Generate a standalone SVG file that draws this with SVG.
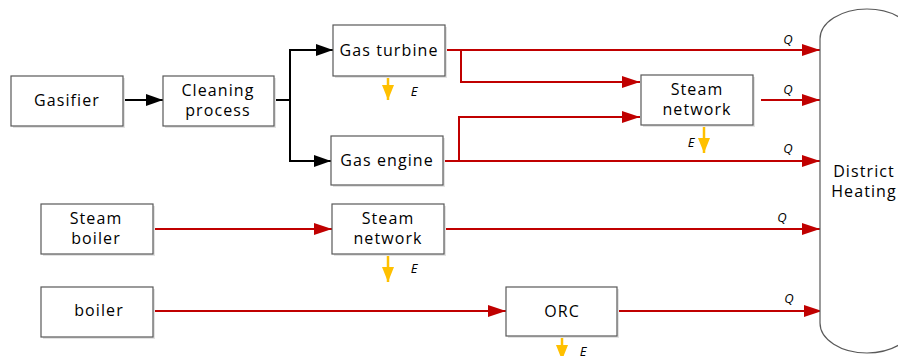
<svg xmlns="http://www.w3.org/2000/svg" width="898" height="356" viewBox="0 0 898 356">
<style>
.box{fill:#fff;stroke:#595959;stroke-width:1.2}
.sh{fill:#e3e3e3}
.t{font-family:"Open Sans","DejaVu Sans",sans-serif;font-size:16px;letter-spacing:1.1px;fill:#000;text-anchor:middle}
.l{font-family:"Open Sans","DejaVu Sans",sans-serif;font-size:13px;font-style:italic;fill:#000;text-anchor:middle}
.k{fill:none;stroke:#000;stroke-width:2}
.r{fill:none;stroke:#C00000;stroke-width:2}
.y{fill:none;stroke:#FFC000;stroke-width:2.5}
</style>
<defs>
<marker id="ak" markerUnits="userSpaceOnUse" markerWidth="18" markerHeight="14" refX="17" refY="7" orient="auto"><path d="M0,1 L17,7 L0,13 Z" fill="#000"/></marker>
<marker id="ar" markerUnits="userSpaceOnUse" markerWidth="19" markerHeight="14" refX="18" refY="7" orient="auto"><path d="M0,1 L18,7 L0,13 Z" fill="#C00000"/></marker>
<marker id="ay" markerUnits="userSpaceOnUse" markerWidth="16" markerHeight="14" refX="15" refY="7" orient="auto"><path d="M0,1 L15,7 L0,13 Z" fill="#FFC000"/></marker>
</defs>

<g id="connectors">
<path class="k" d="M123,100 H163" marker-end="url(#ak)"/>
<path class="k" d="M274,100 H290"/>
<path class="k" d="M290,100 V50 H333" marker-end="url(#ak)"/>
<path class="k" d="M290,100 V161 H331" marker-end="url(#ak)"/>
<path class="r" d="M445,50 H820" marker-end="url(#ar)"/>
<path class="r" d="M461,50 V82 H640" marker-end="url(#ar)"/>
<path class="r" d="M761,100 H820" marker-end="url(#ar)"/>
<path class="r" d="M443,161 H820" marker-end="url(#ar)"/>
<path class="r" d="M459,161 V117 H640" marker-end="url(#ar)"/>
<path class="r" d="M153,229 H332" marker-end="url(#ar)"/>
<path class="r" d="M444,229 H820" marker-end="url(#ar)"/>
<path class="r" d="M153,311 H506" marker-end="url(#ar)"/>
<path class="r" d="M617,311 H822" marker-end="url(#ar)"/>
<path class="y" d="M388,76 V100" marker-end="url(#ay)"/>
<path class="y" d="M704,125 V153" marker-end="url(#ay)"/>
<path class="y" d="M388,254 V282" marker-end="url(#ay)"/>
<path class="y" d="M562,336 V360" marker-end="url(#ay)"/>
<text class="l" x="414" y="96">E</text>
<text class="l" x="691" y="147">E</text>
<text class="l" x="414" y="273">E</text>
<text class="l" x="583" y="356">E</text>
<text class="l" x="788" y="44">Q</text>
<text class="l" x="788" y="94">Q</text>
<text class="l" x="788" y="153">Q</text>
<text class="l" x="782" y="222">Q</text>
<text class="l" x="789" y="303">Q</text>
</g>

<g id="gasifier">
<rect class="sh" x="13" y="78" width="112" height="50"/>
<rect class="box" x="11" y="76" width="112" height="50"/>
<text class="t" x="67" y="106">Gasifier</text>
</g>
<g id="cleaning">
<rect class="sh" x="165" y="78" width="111" height="50"/>
<rect class="box" x="163" y="76" width="111" height="50"/>
<text class="t" x="218" y="96">Cleaning</text>
<text class="t" x="218" y="116">process</text>
</g>
<g id="gas-turbine">
<rect class="sh" x="335" y="27" width="112" height="51"/>
<rect class="box" x="333" y="25" width="112" height="51"/>
<text class="t" x="389" y="56">Gas turbine</text>
</g>
<g id="gas-engine">
<rect class="sh" x="333" y="138" width="112" height="49"/>
<rect class="box" x="331" y="136" width="112" height="49"/>
<text class="t" x="387" y="166">Gas engine</text>
</g>
<g id="steam-network-1">
<rect class="sh" x="643" y="77" width="112" height="50"/>
<rect class="box" x="641" y="75" width="112" height="50"/>
<text class="t" x="697" y="95">Steam</text>
<text class="t" x="697" y="115">network</text>
</g>
<g id="steam-boiler">
<rect class="sh" x="43" y="206" width="112" height="50"/>
<rect class="box" x="41" y="204" width="112" height="50"/>
<text class="t" x="96" y="224">Steam</text>
<text class="t" x="96" y="244">boiler</text>
</g>
<g id="steam-network-2">
<rect class="sh" x="334" y="206" width="112" height="50"/>
<rect class="box" x="332" y="204" width="112" height="50"/>
<text class="t" x="388" y="224">Steam</text>
<text class="t" x="388" y="244">network</text>
</g>
<g id="boiler">
<rect class="sh" x="43" y="289" width="112" height="50"/>
<rect class="box" x="41" y="287" width="112" height="50"/>
<text class="t" x="99" y="316">boiler</text>
</g>
<g id="orc">
<rect class="sh" x="508" y="289" width="111" height="49"/>
<rect class="box" x="506" y="287" width="111" height="49"/>
<text class="t" x="562" y="317">ORC</text>
</g>
<g id="district-heating">
<rect class="box" x="820" y="9" width="94" height="344" rx="47" ry="30"/>
<text class="t" x="864" y="177">District</text>
<text class="t" x="864" y="197">Heating</text>
</g>
</svg>
